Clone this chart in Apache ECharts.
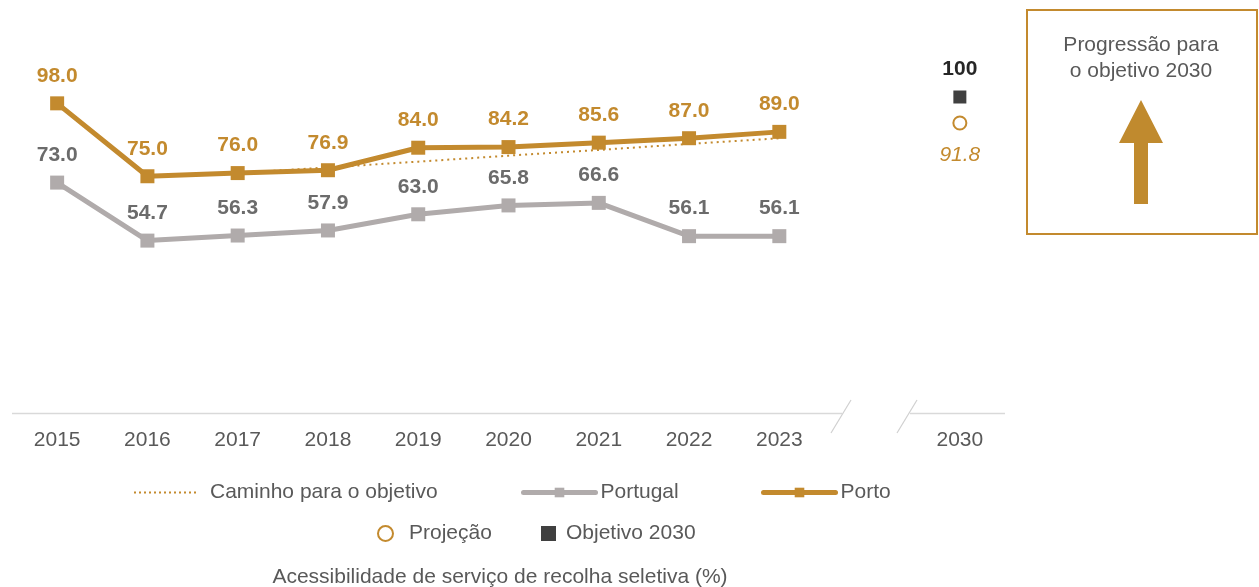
<!DOCTYPE html>
<html><head><meta charset="utf-8">
<script src="https://cdn.jsdelivr.net/npm/echarts@6/dist/echarts.min.js"></script>
<style>html,body{margin:0;padding:0;background:#fff}#c{width:1259px;height:587px}</style>
</head><body><div id="c"></div>
<script>
const categories = ['2015','2016','2017','2018','2019','2020','2021','2022','2023','','2030'];
const portugal = [73.0,54.7,56.3,57.9,63.0,65.8,66.6,56.1,56.1,null,null];
const porto = [98.0,75.0,76.0,76.9,84.0,84.2,85.6,87.0,89.0,null,null];
const caminho = [null,null,76.0,77.8,79.6,81.5,83.3,85.2,87.0,null,null];
const projecao = [null,null,null,null,null,null,null,null,null,null,91.8];
const objetivo = [null,null,null,null,null,null,null,null,null,null,100];

const GOLD = '#C38A2E', GREY = '#B0ABAB', TXT = '#595959', FONT = 'Liberation Sans, Arial, sans-serif';
const FS = 21;
const chart = echarts.init(document.getElementById('c'), null, {renderer:'canvas'});
function lg(extra){
  return Object.assign({orient:'horizontal', itemGap:0, selectedMode:false,
    textStyle:{color:TXT, fontSize:FS, fontFamily:FONT}}, extra);
}
chart.setOption({
  animation:false,
  textStyle:{fontFamily:FONT},
  title:{text:'Acessibilidade de serviço de recolha seletiva (%)', left:495, top:562, textAlign:'center',
    textStyle:{color:TXT, fontSize:FS, fontWeight:'normal', fontFamily:FONT}},
  grid:{left:12, right:254, top:97, bottom:173, containLabel:false},
  xAxis:{type:'category', data:categories, boundaryGap:true,
    axisLine:{show:false}, axisTick:{show:false},
    axisLabel:{color:TXT, fontSize:FS, margin:16, fontFamily:FONT}},
  yAxis:{type:'value', min:0, max:100, show:false, splitLine:{show:false}},
  legend:[
    lg({data:[{name:'Caminho para o objetivo', itemStyle:{opacity:0}}], left:128, top:477, itemWidth:64, itemHeight:12,
      lineStyle:{width:2, type:[2,3]}, textStyle:{color:TXT,fontSize:FS,fontFamily:FONT,padding:[0,0,0,7]}}),
    lg({data:['Portugal'], left:516, top:477, itemWidth:72, itemHeight:12, lineStyle:{width:5, cap:'round'}}),
    lg({data:['Porto'], left:756, top:477, itemWidth:72, itemHeight:12, lineStyle:{width:5, cap:'round'}}),
    lg({data:[{name:'Projeção', icon:'circle'}], left:372, top:518, itemWidth:15, itemHeight:15,
      textStyle:{color:TXT,fontSize:FS,fontFamily:FONT,padding:[0,0,0,11]}}),
    lg({data:[{name:'Objetivo 2030', icon:'rect'}], left:536, top:518, itemWidth:15, itemHeight:15,
      textStyle:{color:TXT,fontSize:FS,fontFamily:FONT,padding:[0,0,0,5]}})
  ],
  series:[
    {name:'Caminho para o objetivo', type:'line', data:caminho, symbol:'none', z:1,
      lineStyle:{color:GOLD, width:2, type:[2,4]}, itemStyle:{color:GOLD}},
    {name:'Portugal', type:'line', data:portugal, symbol:'rect', symbolSize:14, z:2,
      lineStyle:{color:GREY, width:5}, itemStyle:{color:GREY},
      label:{show:true, position:'top', distance:10, formatter:p=>p.value.toFixed(1), color:'#6B6B6B', fontSize:FS, fontWeight:'bold', fontFamily:FONT}},
    {name:'Porto', type:'line', data:porto, symbol:'rect', symbolSize:14, z:3,
      lineStyle:{color:GOLD, width:5}, itemStyle:{color:GOLD},
      label:{show:true, position:'top', distance:10, formatter:p=>p.value.toFixed(1), color:GOLD, fontSize:FS, fontWeight:'bold', fontFamily:FONT}},
    {name:'Projeção', type:'line', data:projecao, symbol:'circle', symbolSize:13, showSymbol:true, lineStyle:{width:0},
      itemStyle:{color:'#fff', borderColor:GOLD, borderWidth:2},
      label:{show:true, position:'bottom', distance:14, formatter:p=>p.value.toFixed(1), color:GOLD, fontSize:FS, fontStyle:'italic', fontFamily:FONT}},
    {name:'Objetivo 2030', type:'line', data:objetivo, symbol:'rect', symbolSize:13, lineStyle:{width:0},
      itemStyle:{color:'#404040'},
      label:{show:true, position:'top', distance:11, formatter:p=>String(p.value), color:'#262626', fontSize:FS, fontWeight:'bold', fontFamily:FONT}}
  ],
  graphic:[
    {type:'line', shape:{x1:12,y1:413.5,x2:842,y2:413.5}, style:{stroke:'#D9D9D9', lineWidth:1.5}, silent:true},
    {type:'line', shape:{x1:910,y1:413.5,x2:1005,y2:413.5}, style:{stroke:'#D9D9D9', lineWidth:1.5}, silent:true},
    {type:'line', shape:{x1:831,y1:433,x2:851,y2:400}, style:{stroke:'#D0D0D0', lineWidth:1.2}, silent:true},
    {type:'line', shape:{x1:897,y1:433,x2:917,y2:400}, style:{stroke:'#D0D0D0', lineWidth:1.2}, silent:true},
    {type:'rect', shape:{x:1027,y:10,width:230,height:224}, style:{fill:'#fff', stroke:GOLD, lineWidth:2}, silent:true},
    {type:'text', x:1141, y:32, style:{text:'Progressão para\no objetivo 2030', fill:TXT, fontSize:FS, fontFamily:FONT, align:'center', lineHeight:26}, silent:true},
    {type:'polygon', shape:{points:[[1141,100],[1163,143],[1148,143],[1148,204],[1134,204],[1134,143],[1119,143]]}, style:{fill:'#C08A2E'}, silent:true}
  ]
});
</script></body></html>
